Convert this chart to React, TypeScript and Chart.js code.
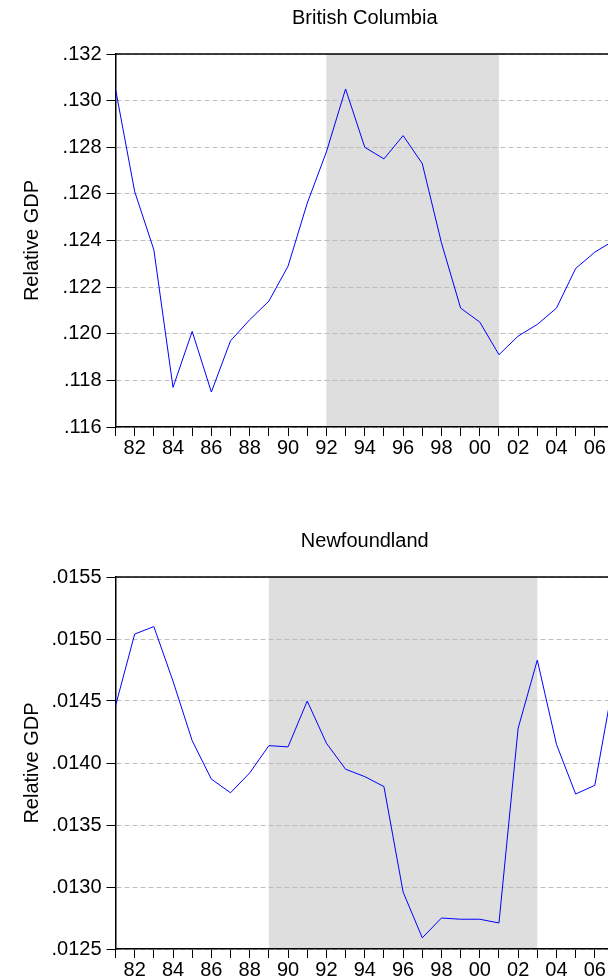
import React, { useEffect, useRef } from 'react';
import { Chart, registerables } from 'chart.js';

Chart.register(...registerables);

const FONT = "'Liberation Sans', Arial, Helvetica, sans-serif";

// ---- data ----
const years = [
  1981, 1982, 1983, 1984, 1985, 1986, 1987, 1988, 1989, 1990,
  1991, 1992, 1993, 1994, 1995, 1996, 1997, 1998, 1999, 2000,
  2001, 2002, 2003, 2004, 2005, 2006, 2007,
];

const bcValues = [
  0.1305, 0.1261, 0.1236, 0.1177, 0.1201, 0.1175, 0.1197, 0.1206, 0.1214, 0.1229,
  0.1256, 0.1278, 0.1305, 0.1280, 0.1275, 0.1285, 0.1273, 0.1239, 0.1211, 0.1205,
  0.1191, 0.1199, 0.1204, 0.1211, 0.1228, 0.1235, 0.1240,
];

const nfValues = [
  0.01446, 0.01504, 0.01510, 0.01466, 0.01418, 0.01387, 0.01376, 0.01392, 0.01414, 0.01413,
  0.01450, 0.01416, 0.01395, 0.01389, 0.01381, 0.01296, 0.01259, 0.01275, 0.01274, 0.01274,
  0.01271, 0.01428, 0.01483, 0.01415, 0.01375, 0.01382, 0.01468,
];

const bcTicks = [0.116, 0.118, 0.120, 0.122, 0.124, 0.126, 0.128, 0.130, 0.132];
const nfTicks = [0.0125, 0.0130, 0.0135, 0.0140, 0.0145, 0.0150, 0.0155];

const bcShade = [1992, 2001];
const nfShade = [1989, 2003];

const bcTitle = 'British Columbia';
const nfTitle = 'Newfoundland';
const yTitle = 'Relative GDP';

const CANVAS_W = 614;

// ---- chart config ----
function makeConfig(
  title: string,
  values: number[],
  ticks: number[],
  decimals: number,
  shade: number[],
  padBottom: number
): any {
  const shadePlugin = {
    id: 'shade',
    beforeDraw(chart: any) {
      const { ctx, chartArea, scales } = chart;
      const x0 = scales.x.getPixelForValue(shade[0]);
      const x1 = scales.x.getPixelForValue(shade[1]);
      ctx.save();
      ctx.fillStyle = '#dedede';
      ctx.fillRect(x0, chartArea.top, x1 - x0, chartArea.bottom - chartArea.top);
      ctx.restore();
    },
  };
  const topBorderPlugin = {
    id: 'topBorder',
    afterDraw(chart: any) {
      const { ctx, chartArea } = chart;
      ctx.save();
      ctx.strokeStyle = '#000';
      ctx.lineWidth = 1.5;
      ctx.beginPath();
      ctx.moveTo(chartArea.left, chartArea.top);
      ctx.lineTo(chartArea.right + 2, chartArea.top);
      ctx.stroke();
      ctx.restore();
    },
  };

  return {
    type: 'line',
    data: {
      datasets: [
        {
          data: years.map((yr, i) => ({ x: yr, y: values[i] })),
          borderColor: '#0000ff',
          borderWidth: 1,
          pointRadius: 0,
          tension: 0,
          fill: false,
        },
      ],
    },
    options: {
      animation: false,
      responsive: false,
      devicePixelRatio: 1,
      layout: { padding: { left: 0, right: 0, top: 0, bottom: padBottom } },
      plugins: {
        legend: { display: false },
        tooltip: { enabled: false },
        title: {
          display: true,
          text: title,
          fullSize: false,
          color: '#000',
          font: { family: FONT, size: 20, weight: 'normal' },
          padding: { top: 6.3, bottom: 23.7 },
        },
      },
      scales: {
        x: {
          type: 'linear',
          min: years[0],
          max: years[years.length - 1],
          afterBuildTicks: (s: any) => {
            s.ticks = years.map((v) => ({ value: v }));
          },
          afterFit: (s: any) => {
            s.height = 31;
          },
          ticks: {
            autoSkip: false,
            maxRotation: 0,
            minRotation: 0,
            padding: 0,
            color: '#000',
            font: { family: FONT, size: 20 },
            callback: (v: any) => (Number(v) % 2 === 0 ? String(v).slice(2) : ''),
          },
          grid: {
            display: true,
            drawOnChartArea: false,
            drawTicks: true,
            tickLength: 9,
            tickColor: '#000',
            tickWidth: 1,
            color: '#000',
          },
          border: { display: true, color: '#000', width: 1.5 },
        },
        y: {
          type: 'linear',
          min: ticks[0],
          max: ticks[ticks.length - 1],
          afterBuildTicks: (s: any) => {
            s.ticks = ticks.map((v) => ({ value: v }));
          },
          afterFit: (s: any) => {
            s.width = 115.5;
          },
          ticks: {
            padding: 5,
            color: '#000',
            font: { family: FONT, size: 20 },
            callback: (v: any) => Number(v).toFixed(decimals).replace(/^0/, ''),
          },
          grid: {
            display: true,
            drawOnChartArea: true,
            drawTicks: true,
            color: '#bdbdbd',
            lineWidth: 1,
            tickLength: 9,
            tickColor: '#000',
            tickWidth: 1,
          },
          border: { display: true, color: '#000', width: 1.5, dash: [5, 3] },
          title: {
            display: true,
            text: yTitle,
            color: '#000',
            font: { family: FONT, size: 20, weight: 'normal' },
            padding: { top: 20.5, bottom: 0 },
          },
        },
      },
    },
    plugins: [shadePlugin, topBorderPlugin],
  };
}

function Panel(props: { top: number; height: number; config: any }) {
  const ref = useRef<HTMLCanvasElement | null>(null);
  useEffect(() => {
    if (!ref.current) return;
    const chart = new Chart(ref.current, props.config);
    return () => chart.destroy();
  }, []);
  return (
    <div style={{ position: 'absolute', left: 0, top: props.top, width: CANVAS_W, height: props.height }}>
      <canvas
        ref={ref}
        width={CANVAS_W}
        height={props.height}
        style={{ display: 'block', width: CANVAS_W, height: props.height }}
      />
    </div>
  );
}

export default function App() {
  const bcConfig = makeConfig(bcTitle, bcValues, bcTicks, 3, bcShade, 65);
  const nfConfig = makeConfig(nfTitle, nfValues, nfTicks, 4, nfShade, 0);
  return (
    <div
      style={{
        position: 'absolute',
        left: 0,
        top: 0,
        width: 608,
        height: 980,
        overflow: 'hidden',
        background: '#fff',
      }}
    >
      <Panel top={0} height={523} config={bcConfig} />
      <Panel top={523} height={457} config={nfConfig} />
    </div>
  );
}
